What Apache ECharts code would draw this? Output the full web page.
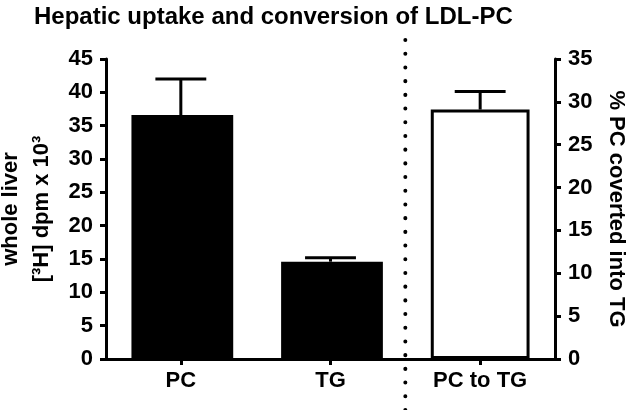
<!DOCTYPE html>
<html>
<head>
<meta charset="utf-8">
<script src="https://cdn.jsdelivr.net/npm/echarts@6/dist/echarts.min.js"></script>
<style>
html,body{margin:0;padding:0;background:#fff;}
#chart{width:633px;height:410px;}
</style>
</head>
<body>
<div id="chart"></div>
<script>
// ---- data ----
var titleText = 'Hepatic uptake and conversion of LDL-PC';
var categories = ['PC', 'TG', 'PC to TG'];
var uptakeMean = [36.6, 14.6];      // whole liver [3H] dpm x 10^3
var uptakeHigh = [42.0, 15.2];      // mean + error
var conversionMean = [29.1];        // % PC converted into TG
var conversionHigh = [31.2];
var leftTicks = {min: 0, max: 45, interval: 5};
var rightTicks = {min: 0, max: 35, interval: 5};
var leftName = 'whole liver\n[³H] dpm x 10³';
var rightName = '% PC coverted into TG';

var FONT = '"Liberation Sans", Arial, sans-serif';
var chart = echarts.init(document.getElementById('chart'), null, {renderer: 'canvas'});

var barData1 = categories.map(function (c, i) { return i < uptakeMean.length ? uptakeMean[i] : '-'; });
var barData2 = categories.map(function (c, i) { return i >= uptakeMean.length ? conversionMean[i - uptakeMean.length] : '-'; });
var errData1 = uptakeMean.map(function (m, i) { return [i, m, uptakeHigh[i]]; });
var errData2 = conversionMean.map(function (m, i) { return [uptakeMean.length + i, m, conversionHigh[i]]; });

function errRender(params, api) {
  var x = api.value(0);
  var lo = api.coord([x, api.value(1)]);
  var hi = api.coord([x, api.value(2)]);
  var half = api.size([1, 0])[0] * 0.17;
  var style = {stroke: '#000', lineWidth: 3, fill: null};
  return {
    type: 'group',
    children: [
      {type: 'line', shape: {x1: lo[0], y1: lo[1], x2: hi[0], y2: hi[1]}, style: style},
      {type: 'line', shape: {x1: hi[0] - half, y1: hi[1], x2: hi[0] + half, y2: hi[1]}, style: style}
    ]
  };
}

function sepRender(params, api) {
  if (params.dataIndex !== 0) return;
  var a = api.coord([uptakeMean.length - 1, 0]);
  var b = api.coord([uptakeMean.length, 0]);
  var x = (a[0] + b[0]) / 2;
  var top = params.coordSys.y;
  var bottom = params.coordSys.y + params.coordSys.height;
  return {
    type: 'line',
    shape: {x1: x, y1: top - 19, x2: x, y2: bottom + 60},
    style: {stroke: '#000', lineWidth: 4, lineDash: [0.1, 13.6], lineCap: 'round'}
  };
}

var axisCommon = {
  axisLine: {show: true, lineStyle: {color: '#000', width: 3}},
  axisTick: {show: true, length: 6, lineStyle: {color: '#000', width: 3}},
  splitLine: {show: false},
  axisLabel: {color: '#000', fontFamily: FONT, fontWeight: 'bold', fontSize: 22, margin: 13}
};

var option = {
  backgroundColor: '#fff',
  animation: false,
  title: {
    text: titleText, left: 29, top: 0,
    textStyle: {fontFamily: FONT, fontWeight: 'bold', fontSize: 24, color: '#000'}
  },
  grid: {left: 106, right: 78, top: 59, bottom: 51, containLabel: false, outerBoundsMode: 'none'},
  xAxis: {
    type: 'category', data: categories, boundaryGap: true,
    axisLine: {show: true, onZero: false, lineStyle: {color: '#000', width: 3}},
    axisTick: {show: true, alignWithLabel: true, length: 6, lineStyle: {color: '#000', width: 3}},
    axisLabel: {color: '#000', fontFamily: FONT, fontWeight: 'bold', fontSize: 22, margin: 11}
  },
  yAxis: [
    Object.assign({}, axisCommon, {
      type: 'value', position: 'left', min: leftTicks.min, max: leftTicks.max, interval: leftTicks.interval,
      name: leftName, nameLocation: 'middle', nameGap: 44, nameRotate: 90,
      nameTextStyle: {color: '#000', fontFamily: FONT, fontWeight: 'bold', fontSize: 22, lineHeight: 31}
    }),
    Object.assign({}, axisCommon, {
      type: 'value', position: 'right', min: rightTicks.min, max: rightTicks.max, interval: rightTicks.interval,
      name: rightName, nameLocation: 'middle', nameGap: 50, nameRotate: -90,
      nameTextStyle: {color: '#000', fontFamily: FONT, fontWeight: 'bold', fontSize: 22}
    })
  ],
  series: [
    {
      type: 'bar', yAxisIndex: 0, data: barData1, barWidth: '68%', barGap: '-100%',
      itemStyle: {color: '#000'}, z: 2
    },
    {
      type: 'bar', yAxisIndex: 1, data: barData2, barWidth: '66%', barGap: '-100%',
      itemStyle: {color: '#fff', borderColor: '#000', borderWidth: 3}, z: 2
    },
    {type: 'custom', yAxisIndex: 0, data: errData1, renderItem: errRender, z: 3},
    {type: 'custom', yAxisIndex: 1, data: errData2, renderItem: errRender, z: 3},
    {type: 'custom', yAxisIndex: 0, data: [[0, 0]], renderItem: sepRender, z: 4, clip: false}
  ]
};
chart.setOption(option);
</script>
</body>
</html>
